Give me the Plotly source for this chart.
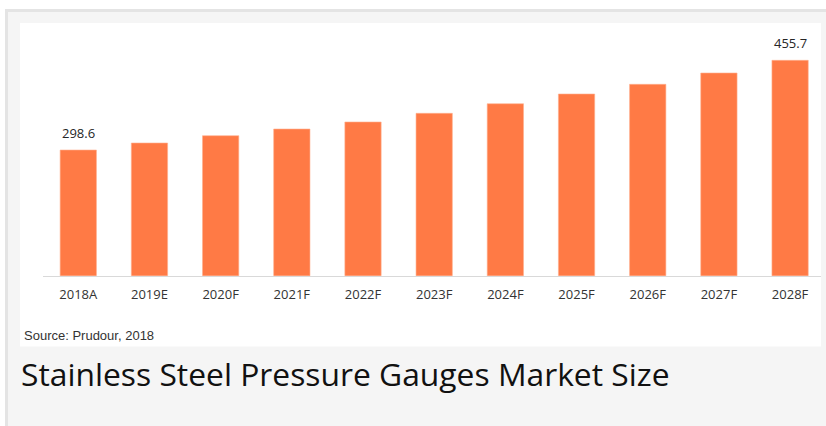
import plotly.graph_objects as go

categories = ["2018A", "2019E", "2020F", "2021F", "2022F", "2023F", "2024F", "2025F", "2026F", "2027F", "2028F"]
values = [298.6, 310.9, 323.7, 335.4, 347.7, 362.9, 379.7, 396.7, 413.7, 433.5, 455.7]
label_idx = [0, 10]
source_text = "Source: Prudour, 2018"
title_text = "Stainless Steel Pressure Gauges Market Size"

W, H = 826, 426
def px(x):
    return x / W
def py(y):
    return 1 - y / H

BAR = "#ff7a45"

fig = go.Figure()
fig.add_trace(go.Bar(
    x=list(range(len(categories))), y=values,
    marker=dict(color=BAR, line=dict(color="#ffb08f", width=0.6)),
    width=0.51, hoverinfo="skip",
))

annotations = []
for i in label_idx:
    annotations.append(dict(
        x=i, y=values[i], xref="x", yref="y", text=f"{values[i]:.1f}",
        showarrow=False, yanchor="bottom", yshift=6,
        font=dict(family="Open Sans", size=13, color="#262626"),
    ))
annotations.append(dict(
    x=px(22), y=py(335), xref="paper", yref="paper", text=source_text,
    showarrow=False, xanchor="left", yanchor="middle",
    font=dict(family="Liberation Sans", size=13, color="#333333"),
))
annotations.append(dict(
    x=px(19), y=py(373), xref="paper", yref="paper", text=title_text,
    showarrow=False, xanchor="left", yanchor="middle",
    font=dict(family="Open Sans", size=31.8, color="#111111"),
))

shapes = [
    dict(type="rect", xref="paper", yref="paper", x0=px(5), x1=px(827), y0=py(9), y1=py(427),
         fillcolor="#e4e4e4", line=dict(width=0), layer="below"),
    dict(type="rect", xref="paper", yref="paper", x0=px(8), x1=px(827), y0=py(12), y1=py(427),
         fillcolor="#f5f5f5", line=dict(width=0), layer="below"),
    dict(type="rect", xref="paper", yref="paper", x0=px(20), x1=px(821), y0=py(23), y1=py(346.5),
         fillcolor="#ffffff", line=dict(width=0), layer="below"),
]

fig.update_layout(
    width=W, height=H, autosize=False,
    margin=dict(l=0, r=0, t=0, b=0),
    paper_bgcolor="#ffffff", plot_bgcolor="rgba(0,0,0,0)",
    showlegend=False,
    xaxis=dict(domain=[px(42.7), px(820.7)], range=[-0.5, 10.43],
               tickmode="array", tickvals=list(range(len(categories))), ticktext=categories,
               showgrid=False, zeroline=False, showline=True, linecolor="#d9d9d9", linewidth=1,
               ticks="outside", ticklen=6.5, tickcolor="rgba(0,0,0,0)",
               tickfont=dict(family="Open Sans", size=13, color="#333333")),
    yaxis=dict(domain=[py(275.7), py(40)], range=[78.5, 491.3], visible=False),
    annotations=annotations, shapes=shapes,
)

fig.write_html("out.html", config={"displayModeBar": False},
               post_script="document.body.style.margin='0';document.body.style.overflow='hidden';")
